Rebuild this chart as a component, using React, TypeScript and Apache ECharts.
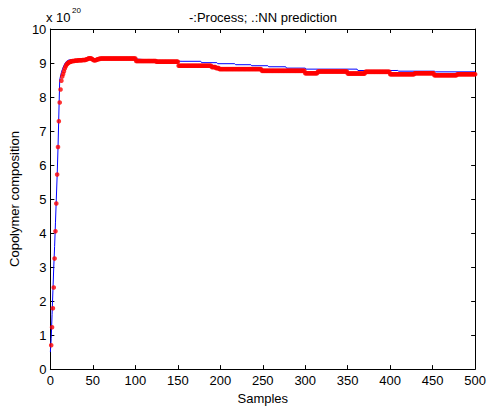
import React, { useEffect, useRef } from "react";
import * as echarts from "echarts";

// Process (blue line) vertices: sample index and value (x 1e20)
const processSamples = [0, 1, 2, 3, 4, 5, 6, 7, 8, 9, 10, 11, 12, 13, 14, 15, 16, 17, 18, 19, 20, 22, 30, 50, 100, 110, 130, 155, 177, 178, 196, 197, 217, 218, 236, 237, 256, 257, 277, 278, 300, 301, 361, 362, 409, 410, 452, 453, 500];
const processValues = [0.5, 0.9, 1.6, 2.3, 3.0, 3.6, 4.3, 5.0, 5.7, 6.5, 7.5, 8.5, 8.62, 8.72, 8.8, 8.87, 8.93, 8.98, 9.02, 9.05, 9.07, 9.09, 9.1, 9.12, 9.12, 9.1, 9.07, 9.05, 9.05, 9.01, 9.01, 8.98, 8.98, 8.95, 8.95, 8.92, 8.92, 8.89, 8.89, 8.85, 8.85, 8.82, 8.82, 8.78, 8.78, 8.76, 8.76, 8.74, 8.74];

// NN prediction (red dots): first samples read one by one (samples 1..58)
const predictionEarly = [0.70, 1.23, 1.79, 2.40, 3.25, 4.05, 4.87, 5.72, 6.53, 7.29, 7.84, 8.22, 8.48, 8.60, 8.68, 8.76, 8.84, 8.90, 8.95, 8.98, 9.00, 9.02, 9.03, 9.04, 9.05, 9.06, 9.06, 9.06, 9.07, 9.07, 9.07, 9.07, 9.08, 9.08, 9.08, 9.08, 9.08, 9.09, 9.09, 9.09, 9.09, 9.10, 9.11, 9.12, 9.13, 9.14, 9.14, 9.13, 9.12, 9.10, 9.08, 9.08, 9.08, 9.09, 9.10, 9.11, 9.12, 9.12];
// then flat runs: run start sample and held value (held until next run start, last until 500)
const predictionRunStart = [59, 101, 125, 151, 190, 195, 199, 249, 300, 315, 350, 371, 400, 429, 452, 479];
const predictionRunValue = [9.13, 9.06, 9.04, 8.92, 8.88, 8.85, 8.82, 8.77, 8.70, 8.75, 8.69, 8.74, 8.67, 8.70, 8.64, 8.67];
const lastSample = 500;

const xTicks = [0, 50, 100, 150, 200, 250, 300, 350, 400, 450, 500];
const yTicks = [0, 1, 2, 3, 4, 5, 6, 7, 8, 9, 10];

const FONT = "'Liberation Sans', Arial, Helvetica, sans-serif";

export default function App() {
  const ref = useRef<HTMLDivElement>(null);
  useEffect(() => {
    if (!ref.current) return;
    const chart = echarts.init(ref.current, undefined, { renderer: "svg" });

    const processData = processSamples.map((s, i) => [s, processValues[i]]);
    const predData: number[][] = predictionEarly.map((v, i) => [i + 1, v]);
    for (let r = 0; r < predictionRunStart.length; r++) {
      const end = r + 1 < predictionRunStart.length ? predictionRunStart[r + 1] - 1 : lastSample;
      for (let s = predictionRunStart[r]; s <= end; s++) predData.push([s, predictionRunValue[r]]);
    }

    const axisCommon = {
      axisLine: { show: true, onZero: false, lineStyle: { color: "#000", width: 1 } },
      axisTick: { show: true, inside: true, length: 4, lineStyle: { color: "#000" } },
      splitLine: { show: false },
    };

    chart.setOption({
      animation: false,
      backgroundColor: "#fff",
      textStyle: { fontFamily: FONT },
      title: {
        text: "-:Process; .:NN prediction",
        left: 258,
        textAlign: "center",
        top: 6,
        textStyle: { fontSize: 13, fontWeight: "normal", color: "#000", fontFamily: FONT },
      },
      graphic: [
        { type: "text", left: 46, top: 11, style: { text: "x 10", fontSize: 13, fill: "#000", fontFamily: FONT } },
        { type: "text", left: 72, top: 6, style: { text: "20", fontSize: 8, fill: "#000", fontFamily: FONT } },
      ],
      grid: { left: 46, right: 9, top: 29, bottom: 40, containLabel: false },
      xAxis: [
        {
          type: "value", position: "bottom", min: 0, max: 500, interval: 50,
          ...axisCommon,
          axisLabel: { color: "#000", fontSize: 13, margin: 5, fontFamily: FONT, formatter: (v: number) => (xTicks.includes(v) ? String(v) : "") },
          name: "Samples", nameLocation: "middle", nameGap: 22,
          nameTextStyle: { color: "#000", fontSize: 13, fontFamily: FONT },
        },
        { type: "value", position: "top", min: 0, max: 500, interval: 50, ...axisCommon, axisLabel: { show: false } },
      ],
      yAxis: [
        {
          type: "value", position: "left", min: 0, max: 10, interval: 1,
          ...axisCommon,
          axisLabel: { color: "#000", fontSize: 13, margin: 4, fontFamily: FONT, formatter: (v: number) => (yTicks.includes(v) ? String(v) : "") },
          name: "Copolymer composition", nameLocation: "middle", nameGap: 25,
          nameTextStyle: { color: "#000", fontSize: 13, fontFamily: FONT },
        },
        { type: "value", position: "right", min: 0, max: 10, interval: 1, ...axisCommon, axisLabel: { show: false } },
      ],
      series: [
        {
          type: "line", name: "Process", data: processData, xAxisIndex: 0, yAxisIndex: 0,
          showSymbol: false, symbol: "none", lineStyle: { color: "#0000ff", width: 1 }, z: 2,
        },
        {
          type: "scatter", name: "NN prediction", data: predData, xAxisIndex: 0, yAxisIndex: 0,
          symbol: "circle", symbolSize: 4.6, itemStyle: { color: "#ff0000" }, z: 3,
        },
      ],
    });
    return () => chart.dispose();
  }, []);
  return <div ref={ref} style={{ width: 489, height: 410, position: "absolute", left: 0, top: 0 }} />;
}
